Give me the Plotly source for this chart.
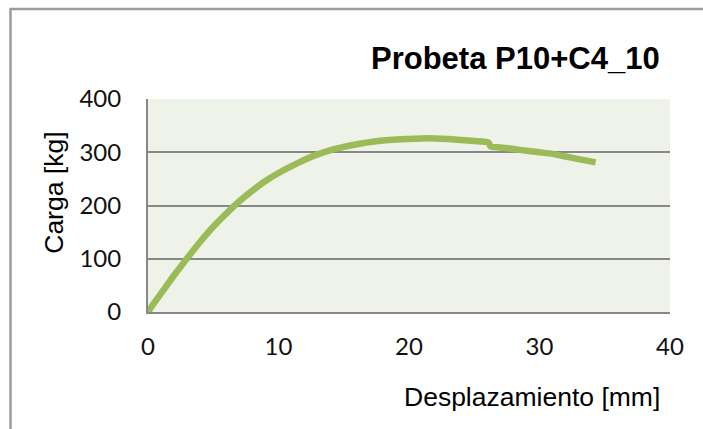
import plotly.graph_objects as go

# Load-displacement record for specimen P10+C4_10
desplazamiento_mm = [0, 0.5, 1, 1.5, 2, 2.5, 3, 4, 5, 6, 7, 8, 9, 10, 11, 12, 13, 14, 15,
                     16, 17, 18, 19, 20, 21, 22, 23, 24, 25, 26.1, 26.25, 27, 28, 29,
                     30, 31, 32, 33, 34.3]
carga_kg = [0, 18, 35, 52, 69, 85, 101, 132, 160, 185, 208, 228, 246, 261, 274, 286,
            296, 304, 310, 315, 319, 322, 324, 325, 326, 326, 325, 323, 321, 318, 311,
            309, 306, 303, 300, 297, 292, 287, 281]

x_ticks = [0, 10, 20, 30, 40]
y_ticks = [0, 100, 200, 300, 400]

GRID = "#878787"
TICK_FONT = dict(family="Lato, Open Sans, sans-serif", size=24, color="#111111")
LABEL_FONT = dict(family="Liberation Sans, Arial, sans-serif", size=26.5, color="#000000")

fig = go.Figure()
fig.add_trace(go.Scatter(
    x=desplazamiento_mm, y=carga_kg, mode="lines",
    line=dict(color="#9BBB59", width=6.5, shape="spline", smoothing=0.6),
    hoverinfo="skip", showlegend=False,
))

fig.update_layout(
    width=703, height=429,
    margin=dict(l=148, r=33, t=99, b=116.5),
    paper_bgcolor="#FFFFFF",
    plot_bgcolor="#EFF2E8",
    showlegend=False,
    xaxis=dict(
        range=[0, 40], tickvals=x_ticks, ticktext=[str(v) for v in x_ticks],
        showgrid=False, zeroline=False, showline=True, linecolor=GRID, linewidth=2,
        ticks="", tickfont=TICK_FONT, ticklabelstandoff=12, fixedrange=True,
    ),
    yaxis=dict(
        range=[0, 400], tickvals=y_ticks, ticktext=[str(v) for v in y_ticks],
        showgrid=True, gridcolor=GRID, gridwidth=2, zeroline=False,
        showline=True, linecolor=GRID, linewidth=2,
        ticks="", tickfont=TICK_FONT, ticklabelstandoff=20, fixedrange=True,
    ),
    annotations=[
        dict(text="<b>Probeta P10+C4_10</b>", xref="paper", yref="paper",
             x=0.9847, y=1.192, xanchor="right", yanchor="middle", showarrow=False,
             font=dict(family="Liberation Sans, Arial, sans-serif", size=31, color="#000000")),
        dict(text="Desplazamiento [mm]", xref="paper", yref="paper",
             x=0.9847, y=-0.4005, xanchor="right", yanchor="middle", showarrow=False,
             font=LABEL_FONT),
        dict(text="Carga [kg]", xref="paper", yref="paper", textangle=-90,
             x=-0.180, y=0.56, xanchor="center", yanchor="middle", showarrow=False,
             font=LABEL_FONT),
    ],
    shapes=[
        dict(type="rect", xref="paper", yref="paper",
             x0=-0.2634, x1=1.3, y0=-0.8, y1=1.423,
             line=dict(color="#9C9C9C", width=2.5), fillcolor="rgba(0,0,0,0)", layer="below"),
    ],
)

fig.write_html("out.html")
